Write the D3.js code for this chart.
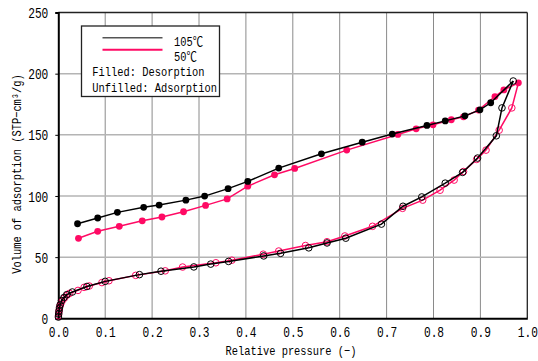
<!DOCTYPE html>
<html>
<head>
<meta charset="utf-8">
<script src="https://cdn.jsdelivr.net/npm/d3@7/dist/d3.min.js"></script>
<style>
  body { margin: 0; background: #fff; }
  text { font-family: "Liberation Mono", "DejaVu Sans Mono", "Noto Sans CJK JP", monospace; fill: #000; }
</style>
</head>
<body>
<svg id="chart" width="538" height="361"></svg>
<script>
// Axis ticks
const xTicks = [0, 0.1, 0.2, 0.3, 0.4, 0.5, 0.6, 0.7, 0.8, 0.9, 1.0];
const yTicks = [0, 50, 100, 150, 200, 250];

// 105 °C — adsorption (relative pressure, volume STP-cm3/g)
const ads105P = [0.0003, 0.0008, 0.0015, 0.0025, 0.004, 0.007, 0.012, 0.018, 0.030, 0.061, 0.100, 0.173, 0.219, 0.289, 0.325, 0.363, 0.438, 0.474, 0.534, 0.573, 0.613, 0.689, 0.735, 0.775, 0.825, 0.862, 0.894, 0.934, 0.946, 0.970];
const ads105V = [1.0, 3.5, 6.0, 8.5, 11.0, 14.5, 17.0, 19.3, 21.5, 26.0, 30.2, 35.7, 38.5, 42.0, 44.3, 46.5, 51.0, 53.1, 57.6, 61.6, 65.5, 77.0, 91.6, 99.2, 110.5, 119.3, 131.0, 149.2, 172.0, 194.0];
// 105 °C — desorption
const des105P = [0.922, 0.899, 0.867, 0.825, 0.786, 0.712, 0.648, 0.561, 0.470, 0.404, 0.362, 0.312, 0.272, 0.215, 0.182, 0.126, 0.084, 0.041];
const des105V = [176.2, 170.4, 165.5, 161.4, 157.7, 150.6, 144.0, 134.5, 122.8, 111.9, 106.0, 99.9, 96.6, 92.6, 90.7, 86.6, 82.0, 77.3];

// 50 °C — adsorption
const ads50P = [0.0003, 0.001, 0.002, 0.003, 0.005, 0.008, 0.013, 0.019, 0.024, 0.042, 0.055, 0.066, 0.093, 0.108, 0.165, 0.228, 0.265, 0.336, 0.370, 0.437, 0.470, 0.527, 0.573, 0.611, 0.670, 0.734, 0.777, 0.814, 0.844, 0.864, 0.892, 0.912, 0.940, 0.967];
const ads50V = [2.0, 4.5, 7.0, 9.5, 11.5, 14.0, 16.5, 19.0, 20.4, 22.8, 25.3, 26.4, 29.2, 30.7, 35.1, 38.8, 41.9, 45.4, 47.5, 52.4, 55.0, 59.5, 62.6, 67.3, 75.2, 89.9, 96.6, 104.7, 113.0, 120.0, 129.9, 137.5, 153.8, 172.0];
// 50 °C — desorption
const des50P = [0.981, 0.950, 0.931, 0.896, 0.864, 0.838, 0.799, 0.763, 0.724, 0.615, 0.504, 0.461, 0.404, 0.360, 0.314, 0.267, 0.221, 0.179, 0.130, 0.084, 0.043];
const des50V = [192.5, 186.7, 181.3, 170.2, 164.7, 162.3, 158.2, 154.9, 150.3, 137.5, 122.5, 117.3, 108.0, 97.6, 92.3, 87.1, 82.8, 79.7, 75.2, 71.1, 65.4];

const COLOR_105 = "#000000";
const COLOR_50 = "#ff0a64";
const TICK_FS = 14, TICK_SX = 0.8;      // tick labels: tall, narrow monospace
const TEXT_FS = 13, TEXT_SX = 0.8;      // titles and legend

const svg = d3.select("#chart");
const x = d3.scaleLinear().domain([0, 1]).range([58.3, 527.3]);
const y = d3.scaleLinear().domain([0, 250]).range([318.3, 12.5]);

const zip = (P, V) => P.map((p, i) => ({ p, v: V[i] }));

// Grid
svg.append("g").selectAll("line").data(xTicks.slice(1, -1)).join("line")
  .attr("x1", d => x(d)).attr("x2", d => x(d))
  .attr("y1", y(250)).attr("y2", y(0))
  .attr("stroke", "#8a8a8a").attr("stroke-width", 1);
svg.append("g").selectAll("line").data(yTicks.slice(1, -1)).join("line")
  .attr("x1", x(0)).attr("x2", x(1))
  .attr("y1", d => y(d)).attr("y2", d => y(d))
  .attr("stroke", "#b4b4b4").attr("stroke-width", 1.5);

// Frame: thin top/right, heavy axes left/bottom
svg.append("line").attr("x1", x(0)).attr("x2", x(1)).attr("y1", y(250)).attr("y2", y(250))
  .attr("stroke", "#222").attr("stroke-width", 1.3);
svg.append("line").attr("x1", x(1)).attr("x2", x(1)).attr("y1", y(250)).attr("y2", y(0))
  .attr("stroke", "#222").attr("stroke-width", 1.3);

// Axes
const yAxis = svg.append("g").attr("transform", `translate(${x(0)},0)`)
  .call(d3.axisLeft(y).tickValues(yTicks).tickSize(3).tickFormat(d3.format("d")));
const xAxis = svg.append("g").attr("transform", `translate(0,${y(0)})`)
  .call(d3.axisBottom(x).tickValues(xTicks).tickSize(0).tickFormat(d3.format(".1f")));

[yAxis, xAxis].forEach(g => {
  g.select(".domain").attr("stroke", "#000").attr("stroke-width", 2);
  g.selectAll(".tick line").attr("stroke", "#000").attr("stroke-width", 1);
  g.selectAll("text").style("font-size", TICK_FS + "px")
    .style("font-family", "'Liberation Mono','DejaVu Sans Mono',monospace").attr("fill", "#000");
});
yAxis.selectAll(".tick text").attr("x", -10 / TICK_SX).attr("dy", "0.36em")
  .attr("transform", `scale(${TICK_SX},1)`);
xAxis.selectAll(".tick text").attr("y", 9).attr("dy", "0.71em")
  .attr("transform", `scale(${TICK_SX},1)`);

// Axis titles
svg.append("text")
  .attr("transform", `translate(291,355) scale(${TEXT_SX},1)`)
  .attr("text-anchor", "middle").style("font-size", TEXT_FS + "px")
  .text("Relative pressure (\u2212)");
svg.append("text")
  .attr("transform", `translate(21,174) rotate(-90) scale(${TEXT_SX},1)`)
  .attr("text-anchor", "middle").style("font-size", TEXT_FS + "px")
  .text("Volume of adsorption (STP\u2212cm\u00b3/g)");

// Series
const line = d3.line().x(d => x(d.p)).y(d => y(d.v));

function drawSeries(color, adsP, adsV, desP, desV, topFromDes) {
  const ads = zip(adsP, adsV);
  const des = zip(desP, desV);
  const g = svg.append("g");
  // adsorption branch, closed to the turning point
  const adsPath = topFromDes ? ads.concat([des[0]]) : ads;
  const desPath = topFromDes ? des : [ads[ads.length - 1]].concat(des);
  g.append("path").datum(adsPath).attr("d", line)
    .attr("fill", "none").attr("stroke", color).attr("stroke-width", 1.5);
  g.append("path").datum(desPath).attr("d", line)
    .attr("fill", "none").attr("stroke", color).attr("stroke-width", 1.5);
  g.append("g").selectAll("circle").data(ads).join("circle")
    .attr("cx", d => x(d.p)).attr("cy", d => y(d.v)).attr("r", 3.3)
    .attr("fill", "none").attr("stroke", color).attr("stroke-width", 1);
  g.append("g").selectAll("circle").data(des).join("circle")
    .attr("cx", d => x(d.p)).attr("cy", d => y(d.v)).attr("r", 3.4)
    .attr("fill", color).attr("stroke", "none");
}

drawSeries(COLOR_50, ads50P, ads50V, des50P, des50V, true);
drawSeries(COLOR_105, ads105P, ads105V, des105P, des105V, false);

// Legend
const lg = svg.append("g");
lg.append("rect").attr("x", 81.5).attr("y", 26).attr("width", 138).attr("height", 70.5)
  .attr("fill", "#fff").attr("stroke", "#222").attr("stroke-width", 1.3);
lg.append("line").attr("x1", 102.5).attr("x2", 162.5).attr("y1", 37.7).attr("y2", 37.7)
  .attr("stroke", "#555").attr("stroke-width", 1.5);
lg.append("line").attr("x1", 102.5).attr("x2", 162.5).attr("y1", 49.7).attr("y2", 49.7)
  .attr("stroke", COLOR_50).attr("stroke-width", 2);
const legendText = [
  { t: "105\u2103", x: 174, y: 46 },
  { t: "50\u2103", x: 174, y: 61 },
  { t: "Filled: Desorption", x: 92.3, y: 76 },
  { t: "Unfilled: Adsorption", x: 92.3, y: 91.5 }
];
lg.selectAll("text").data(legendText).join("text")
  .attr("transform", d => `translate(${d.x},${d.y}) scale(${TEXT_SX},1)`)
  .style("font-size", TEXT_FS + "px")
  .text(d => d.t);
</script>
</body>
</html>
